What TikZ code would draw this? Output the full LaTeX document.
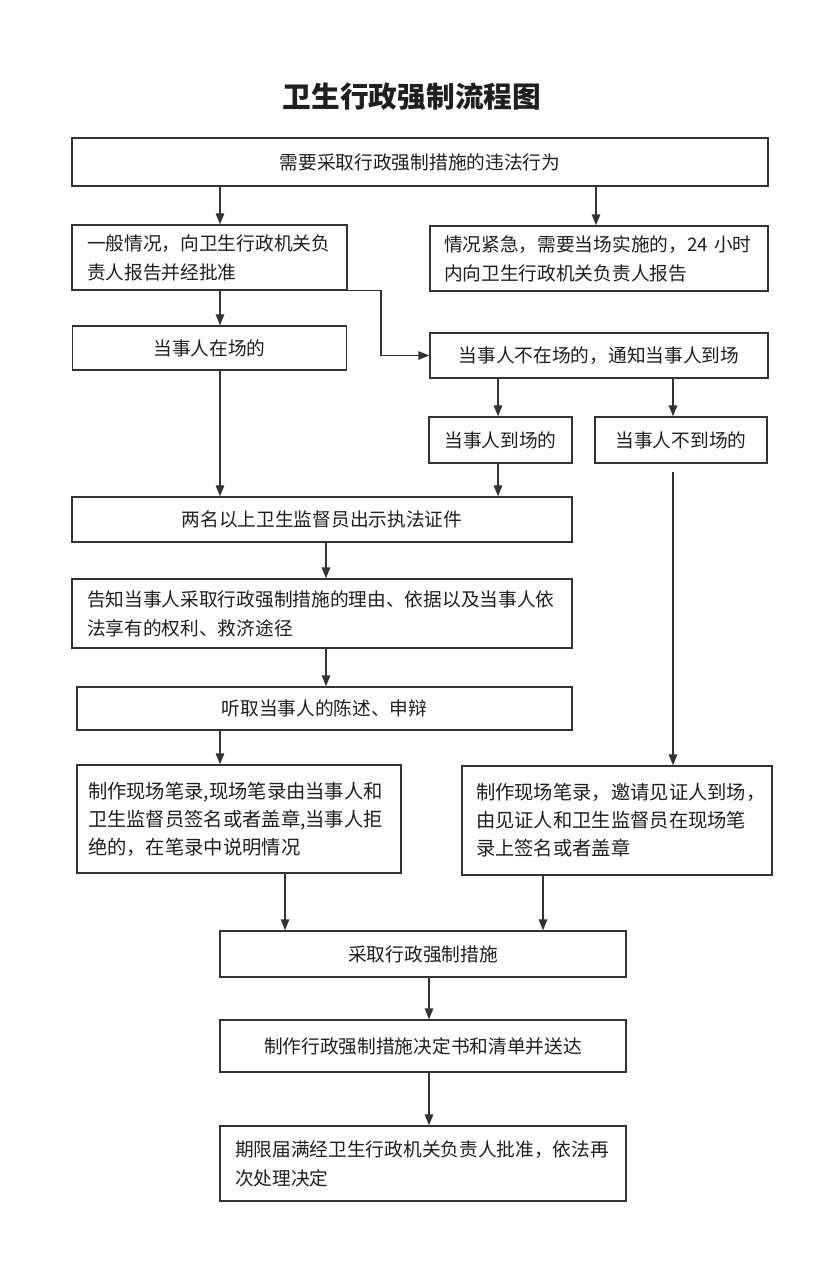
\documentclass[tikz,border=0pt]{standalone}
\usepackage{fontspec}
\setmainfont{Noto Sans CJK SC}
\usetikzlibrary{arrows.meta,calc}
\begin{document}
\begin{tikzpicture}[x=1pt,y=-1pt,
  box/.style={draw=black!80,line width=1.4pt,inner sep=0pt,text=black!88,
    font=\fontsize{18.7}{29}\selectfont},
  lbox/.style={box,align=left,inner xsep=15pt},
  bigbox/.style={lbox,font=\fontsize{19.3}{28}\selectfont},
  arr/.style={draw=black!80,line width=1.4pt,-{Triangle[length=11pt,width=8.5pt]}}]
\path[fill=white] (0,0) rectangle (840,1287);
\useasboundingbox (0,0) rectangle (840,1287);

\node[text=black!88,font=\fontsize{28.7}{30}\selectfont\bfseries] (title) at (412,97) {卫生行政强制流程图};

\node[box,minimum width=696,minimum height=48] (b1) at (420,162) {需要采取行政强制措施的违法行为};
\node[lbox,text width=245,minimum height=65] (b2L) at (209.5,257.5) {一般情况，向卫生行政机关负\\责人报告并经批准};
\node[lbox,inner xsep=14pt,text width=310,minimum height=65] (b2R) at (599,258.5) {情况紧急，需要当场实施的，24 小时\\内向卫生行政机关负责人报告};
\node[box,minimum width=274,minimum height=44] (b3L) at (209.5,348) {当事人在场的};
\node[box,minimum width=338,minimum height=45] (b3R) at (599,355.5) {当事人不在场的，通知当事人到场};
\node[box,minimum width=143,minimum height=46] (b4a) at (500.5,440) {当事人到场的};
\node[box,minimum width=172,minimum height=46] (b4b) at (681,440) {当事人不到场的};
\node[box,minimum width=500,minimum height=45] (b5) at (322,519.5) {两名以上卫生监督员出示执法证件};
\node[lbox,text width=470,minimum height=69] (b6) at (322,613.5) {告知当事人采取行政强制措施的理由、依据以及当事人依\\法享有的权利、救济途径};
\node[box,minimum width=495,minimum height=43] (b7) at (324.5,708.5) {听取当事人的陈述、申辩};
\node[bigbox,inner xsep=11pt,text width=302,minimum height=108] (b8L) at (239,819) {制作现场笔录,现场笔录由当事人和\\卫生监督员签名或者盖章,当事人拒\\绝的，在笔录中说明情况};
\node[bigbox,inner xsep=14pt,text width=282,minimum height=109] (b8R) at (617,820.5) {制作现场笔录，邀请见证人到场，\\由见证人和卫生监督员在现场笔\\录上签名或者盖章};
\node[box,minimum width=406,minimum height=46] (b9) at (423,954) {采取行政强制措施};
\node[box,minimum width=406,minimum height=52] (b10) at (423,1046) {制作行政强制措施决定书和清单并送达};
\node[lbox,text width=376,minimum height=75] (b11) at (423,1163.5) {期限届满经卫生行政机关负责人批准，依法再\\次处理决定};

\coordinate (xa) at (220,0);
\coordinate (xb) at (596,0);
\coordinate (xc) at (498,0);
\coordinate (xd) at (673,0);
\coordinate (xe) at (326,0);
\coordinate (xf) at (285,0);
\coordinate (xg) at (543,0);
\coordinate (xh) at (429,0);
\coordinate (xk) at (381,0);
\coordinate (d0) at ([yshift=-8pt]b4b.south);

\draw[arr] (b1.south -| xa) -- (b2L.north -| xa);
\draw[arr] (b1.south -| xb) -- (b2R.north -| xb);
\draw[arr] (b2L.south -| xa) -- (b3L.north -| xa);
\draw[arr] (b2L.south east) -| (xk |- b3R.west) -- (b3R.west);
\draw[arr] (b3R.south -| xc) -- (b4a.north -| xc);
\draw[arr] (b3R.south -| xd) -- (b4b.north -| xd);
\draw[arr] (b3L.south -| xa) -- (b5.north -| xa);
\draw[arr] (b4a.south -| xc) -- (b5.north -| xc);
\draw[arr] (b5.south -| xe) -- (b6.north -| xe);
\draw[arr] (b6.south -| xe) -- (b7.north -| xe);
\draw[arr] (b7.south -| xa) -- (b8L.north -| xa);
\draw[arr] (d0 -| xd) -- (b8R.north -| xd);
\draw[arr] (b8L.south -| xf) -- (b9.north -| xf);
\draw[arr] (b8R.south -| xg) -- (b9.north -| xg);
\draw[arr] (b9.south -| xh) -- (b10.north -| xh);
\draw[arr] (b10.south -| xh) -- (b11.north -| xh);
\end{tikzpicture}
\end{document}
